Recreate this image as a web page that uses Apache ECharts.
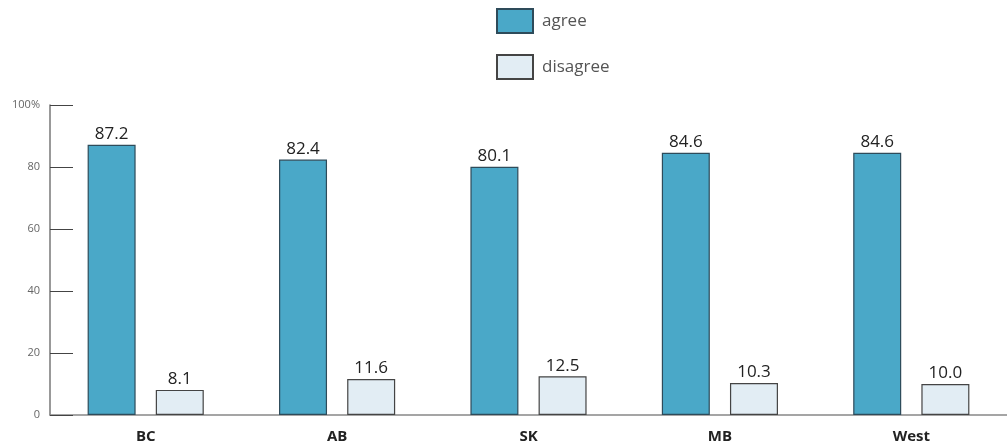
<!DOCTYPE html>
<html>
<head>
<meta charset="utf-8">
<script src="https://cdn.jsdelivr.net/npm/echarts@6/dist/echarts.min.js"></script>
<style>
  html, body { margin: 0; padding: 0; background: #fff; }
  #chart { width: 1007px; height: 446px; }
</style>
</head>
<body>
<div id="chart"></div>
<script>
// Regions and survey shares (%)
const regions = ['BC', 'AB', 'SK', 'MB', 'West'];
const agree = [87.2, 82.4, 80.1, 84.6, 84.6];
const disagree = [8.1, 11.6, 12.5, 10.3, 10.0];
const yTicks = [0, 20, 40, 60, 80, 100];

const FONT = '"Open Sans", "Noto Sans", sans-serif';

const chart = echarts.init(document.getElementById('chart'), null, { renderer: 'canvas' });

const valueLabel = {
  show: true,
  position: 'top',
  distance: 2,
  color: '#222',
  fontFamily: FONT,
  fontSize: 17,
  formatter: p => p.value.toFixed(1)
};

chart.setOption({
  animation: false,
  textStyle: { fontFamily: FONT },
  legend: {
    orient: 'vertical',
    left: 496,
    top: 8,
    padding: 0,
    itemWidth: 36,
    itemHeight: 24,
    itemGap: 20,
    icon: 'rect',
    textStyle: { fontSize: 17, color: '#555', fontFamily: FONT, padding: [0, 0, 0, 4] },
    data: ['agree', 'disagree']
  },
  grid: { left: 50, top: 105, width: 961, height: 310, containLabel: false },
  xAxis: {
    type: 'category',
    data: regions,
    axisLine: { show: true, lineStyle: { color: '#888', width: 1.5 } },
    axisTick: { show: false },
    axisLabel: { color: '#222', fontWeight: 'bold', fontSize: 15, margin: 14, fontFamily: FONT }
  },
  yAxis: {
    type: 'value',
    min: yTicks[0],
    max: yTicks[yTicks.length - 1],
    interval: 20,
    splitLine: { show: false },
    axisLine: { show: true, lineStyle: { color: '#777', width: 1.5 } },
    axisTick: { show: true, inside: true, length: 23, lineStyle: { color: '#444', width: 1 } },
    axisLabel: {
      color: '#666',
      fontSize: 11,
      margin: 10,
      fontFamily: FONT,
      formatter: v => (v === 100 ? '100%' : String(v))
    }
  },
  series: [
    {
      name: 'agree',
      type: 'bar',
      data: agree,
      barWidth: 48,
      barGap: '42%',
      itemStyle: { color: '#4AA8C8', borderColor: '#2E4B5A', borderWidth: 1.2 },
      label: valueLabel
    },
    {
      name: 'disagree',
      type: 'bar',
      data: disagree,
      barWidth: 48,
      itemStyle: { color: '#E2EDF4', borderColor: '#444', borderWidth: 1.2 },
      label: valueLabel
    }
  ]
});
</script>
</body>
</html>
